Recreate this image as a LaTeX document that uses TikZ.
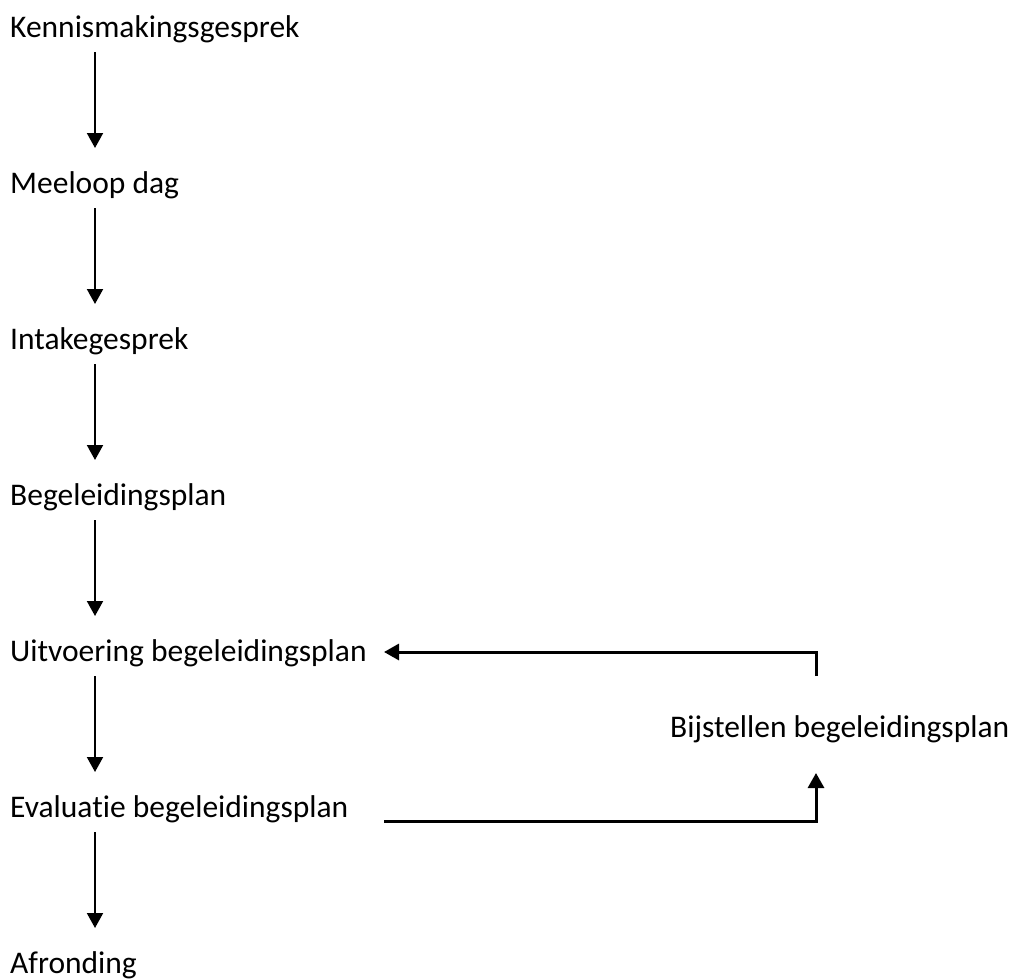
\documentclass[tikz,border=0pt]{standalone}
\usepackage{fontspec}
\setmainfont[Ligatures=NoCommon]{Carlito}
\usetikzlibrary{arrows.meta}
\tikzset{
	step label/.style={anchor=base west, inner sep=0pt, font=\fontsize{31.5}{38}\selectfont},
	down/.style={line width=2pt, -{Triangle[width=16pt,length=15pt]}, shorten <=15pt, shorten >=45pt},
	back/.style={line width=3pt, -{Triangle[width=16pt,length=15pt]}}
}

\begin{document}
\begin{tikzpicture}[x=1pt,y=-1pt]
	\useasboundingbox (0,0) rectangle (1018,978);
	\node[step label] (K) at (10,37) {Kennismakingsgesprek};
	\node[step label] (M) at (10,193) {Meeloop dag};
	\node[step label] (I) at (10,349) {Intakegesprek};
	\node[step label] (B) at (10,505) {Begeleidingsplan};
	\node[step label] (U) at (10,661) {Uitvoering begeleidingsplan};
	\node[step label] (E) at (10,817) {Evaluatie begeleidingsplan};
	\node[step label] (A) at (10,973) {Afronding};
	\node[step label] (S) at (670,737) {Bijstellen begeleidingsplan};
	\coordinate (col) at (95,0);
	\path[down]
		(K.base -| col) edge (M.base -| col)
		(M.base -| col) edge (I.base -| col)
		(I.base -| col) edge (B.base -| col)
		(B.base -| col) edge (U.base -| col)
		(U.base -| col) edge (E.base -| col)
		(E.base -| col) edge (A.base -| col);
	% terugkoppeling
	\coordinate (E out) at (384,821);
	\coordinate (S in) at (816,773);
	\coordinate (S out) at (816,676);
	\coordinate (U in) at (384,652);
	\draw[back] (E out) -| (S in);
	\draw[back] (S out) |- (U in);
\end{tikzpicture}
\end{document}
